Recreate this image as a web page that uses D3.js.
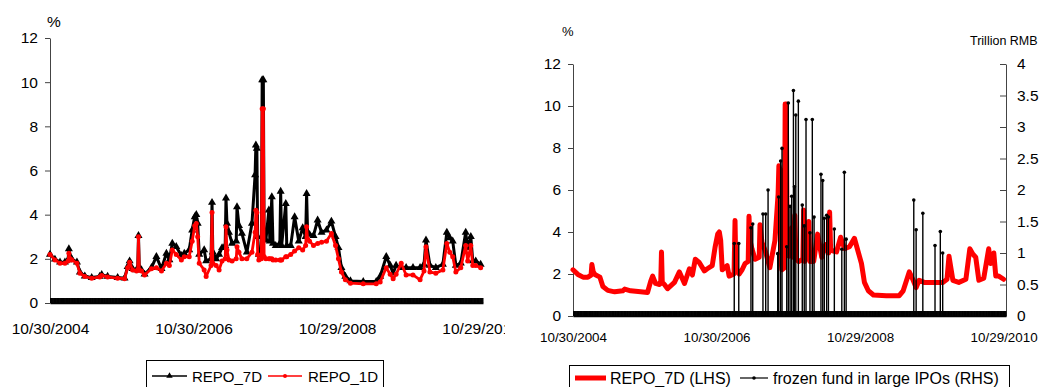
<!DOCTYPE html>
<html>
<head>
<meta charset="utf-8">
<script src="https://cdn.jsdelivr.net/npm/d3@7"></script>
<style>
  body { margin: 0; background: #fff; font-family: "Liberation Sans", Arial, sans-serif; }
  svg { position: absolute; top: 0; overflow: hidden; }
</style>
</head>
<body>
<svg id="left" width="505" height="387" style="left:0"></svg>
<svg id="right" width="525" height="387" style="left:520px"></svg>
<script>
// repo rates, %
const repoDates = [
  '2004-10-30','2004-11-24','2004-12-20','2005-01-14','2005-01-30','2005-02-03','2005-02-10','2005-02-18',
  '2005-03-16','2005-03-31','2005-04-25','2005-05-30','2005-07-10','2005-07-20','2005-08-19','2005-10-09',
  '2005-11-13','2005-11-29','2005-12-09','2005-12-24','2006-01-13','2006-01-19','2006-01-23','2006-01-27',
  '2006-02-07','2006-02-23','2006-03-30','2006-04-24','2006-05-20','2006-06-14','2006-06-29','2006-07-14',
  '2006-08-03','2006-08-29','2006-09-13','2006-10-08','2006-10-23','2006-11-05','2006-11-13','2006-11-20',
  '2006-11-28','2006-12-23','2007-01-02','2007-01-27','2007-02-01','2007-02-05','2007-02-22','2007-03-09',
  '2007-03-24','2007-04-09','2007-04-13','2007-04-18','2007-04-28','2007-05-14','2007-06-04','2007-06-08',
  '2007-06-18','2007-07-03','2007-07-28','2007-08-23','2007-09-08','2007-09-12','2007-09-17','2007-09-21',
  '2007-09-27','2007-10-10','2007-10-14','2007-10-20','2007-10-24','2007-11-02','2007-11-17','2007-11-22',
  '2007-12-02','2007-12-08','2007-12-22','2008-01-12','2008-01-16','2008-01-21','2008-02-11','2008-02-16',
  '2008-03-07','2008-03-27','2008-04-17','2008-05-07','2008-05-22','2008-05-27','2008-06-01','2008-06-11',
  '2008-07-01','2008-07-22','2008-08-11','2008-09-05','2008-09-30','2008-10-21','2008-11-05','2008-11-20',
  '2008-12-10','2009-01-05','2009-03-11','2009-05-16','2009-06-05','2009-07-06','2009-07-26','2009-08-10',
  '2009-08-25','2009-09-20','2009-10-15','2009-11-19','2009-12-25','2010-01-14','2010-01-24','2010-02-13',
  '2010-03-15','2010-04-20','2010-05-10','2010-05-25','2010-06-09','2010-06-25','2010-07-20','2010-08-14',
  '2010-08-24','2010-09-09','2010-09-19','2010-10-04','2010-10-29'
]
const repo7d = [
  2.2, 1.98, 1.85, 1.85, 1.95, 2.45, 2.1, 1.98,
  1.85, 1.4, 1.22, 1.15, 1.2, 1.28, 1.2, 1.15,
  1.12, 1.65, 1.9, 1.55, 1.5, 1.55, 3.05, 1.6,
  1.5, 1.3, 1.6, 2.1, 1.55, 2.25, 1.95, 2.7,
  2.55, 2.15, 2.25, 2.4, 3.3, 3.9, 4.0, 3.6,
  2.2, 2.4, 1.9, 2.0, 4.55, 2.3, 2.0, 2.2,
  2.5, 2.6, 4.75, 3.6, 3.2, 2.7, 2.8, 4.35,
  3.5, 3.15, 2.3, 3.6, 5.8, 7.15, 7.0, 3.0,
  2.2, 2.3, 10.1, 10.1, 2.9, 2.85, 4.2, 2.8,
  4.8, 2.7, 2.6, 2.7, 5.05, 2.6, 4.5, 2.6,
  2.6, 3.9, 2.8, 3.4, 3.0, 4.95, 3.2, 3.1,
  3.05, 3.75, 3.2, 3.3, 3.7, 3.0, 2.5, 1.6,
  1.2, 1.0, 0.97, 0.97, 1.2, 2.1, 1.7, 1.35,
  1.7, 1.6, 1.6, 1.6, 1.6, 1.75, 2.85, 1.7,
  1.6, 1.75, 3.2, 2.95, 2.8, 1.7, 1.8, 3.2,
  2.5, 3.0, 1.9, 1.9, 1.75
]
const repo1d = [
  2.2, 1.95, 1.8, 1.8, 1.9, 2.25, 2.0, 1.95,
  1.8, 1.35, 1.2, 1.12, 1.18, 1.25, 1.18, 1.12,
  1.1, 1.6, 1.85, 1.5, 1.45, 1.5, 3.0, 1.5,
  1.45, 1.27, 1.55, 1.6, 1.45, 1.8, 1.7, 2.4,
  2.2, 1.95, 2.1, 2.1, 2.8, 3.5, 3.6, 3.0,
  1.8, 1.5, 1.2, 1.7, 4.1, 1.8, 1.7, 1.5,
  1.9, 2.0, 3.45, 2.4, 1.95, 1.9, 2.0, 2.55,
  2.3, 2.0, 2.0, 2.3, 3.2, 4.2, 4.1, 2.2,
  1.95, 2.0, 8.8, 8.8, 2.1, 2.0, 2.0, 2.0,
  2.0, 1.95, 1.95, 1.95, 1.95, 1.95, 2.1, 2.1,
  2.2, 2.35, 2.5, 2.4, 2.6, 3.45, 2.9, 2.8,
  2.6, 2.7, 2.75, 2.8, 3.15, 2.6, 2.0, 1.4,
  1.05, 0.9, 0.87, 0.87, 0.95, 1.6, 1.3, 1.1,
  1.3, 1.8, 1.27, 1.27, 1.05, 1.45, 2.55, 1.4,
  1.35, 1.5, 2.7, 2.3, 2.1, 1.4, 1.6, 2.6,
  1.9, 2.6, 1.7, 1.7, 1.6
]

// frozen funds in large IPOs, trillion RMB
const ipoDates = [
  '2007-01-28','2007-02-20','2007-04-23','2007-05-02','2007-06-23','2007-07-07','2007-07-19','2007-09-06',
  '2007-09-11','2007-09-21','2007-09-28','2007-10-22','2007-10-30','2007-11-08','2007-11-16','2007-11-25',
  '2007-11-30','2007-12-07','2007-12-20','2008-01-09','2008-01-19','2008-01-28','2008-02-17','2008-02-29',
  '2008-03-09','2008-04-13','2008-04-22','2008-04-30','2008-05-12','2008-05-21','2008-06-20','2008-07-28',
  '2008-08-10','2008-08-19','2009-07-29','2009-08-10','2009-09-13','2009-11-14','2009-12-11','2009-12-23'
]
const ipoFrozen = [
  1.15, 1.15, 1.40, 1.46, 1.62, 1.62, 2.0, 0.99,
  1.89, 2.46, 2.66, 1.1, 3.38, 1.74, 1.9, 3.58,
  2.05, 3.19, 3.41, 1.76, 1.43, 3.12, 1.32, 3.12,
  1.57, 2.25, 2.15, 1.55, 1.6, 1.57, 1.38, 1.06,
  2.28, 1.22, 1.84, 1.37, 1.63, 1.12, 1.34, 1.0
]

const pctTicks = [0, 2, 4, 6, 8, 10, 12]
const rmbTicks = [0, 0.5, 1, 1.5, 2, 2.5, 3, 3.5, 4]
const rmbTickLabels = ['0', '0.5', '1', '1.5', '2', '2.5', '3', '3.5', '4']
const dateTickLabels = ['10/30/2004', '10/30/2006', '10/29/2008', '10/29/2010']

const parse = d3.timeParse('%Y-%m-%d')
const parseLabel = d3.timeParse('%m/%d/%Y')
const start = parse('2004-10-30')
const end = parse('2010-11-10')

const repo = repoDates.map((d, i) => ({ date: parse(d), r7: repo7d[i], r1: repo1d[i] }))
const ipo = ipoDates.map((d, i) => ({ date: parse(d), v: ipoFrozen[i] }))
const labelDates = dateTickLabels.map(parseLabel)
const bandDates = d3.timeDay.every(3).range(start, end)
const FONT = '"Liberation Sans", Arial, sans-serif'

// draws dense tick band + date labels under a plot
function drawDateAxis (svg, x, y0, fontSize, pad) {
  svg.append('g')
    .attr('transform', 'translate(0,' + y0 + ')')
    .call(d3.axisBottom(x).tickValues(bandDates).tickSizeInner(-5).tickSizeOuter(0).tickFormat(''))
    .call(g => g.selectAll('line').attr('stroke', '#000').attr('stroke-width', 1.2))
    .call(g => g.select('.domain').attr('stroke', '#000').attr('stroke-width', 1.5))
  svg.append('g')
    .attr('transform', 'translate(0,' + y0 + ')')
    .call(d3.axisBottom(x).tickValues(labelDates).tickSize(0).tickPadding(pad)
      .tickFormat((d, i) => dateTickLabels[i]))
    .call(g => g.select('.domain').remove())
    .call(g => g.selectAll('text').attr('font-size', fontSize).attr('fill', '#000').attr('font-family', FONT))
}

// ---------- left chart ----------
{
  let svg = d3.select('#left')
  let x = d3.scaleTime().domain([start, end]).range([50, 483])
  let y = d3.scaleLinear().domain([0, 12]).range([303, 38])

  svg.append('g')
    .attr('transform', 'translate(50,0)')
    .call(d3.axisLeft(y).tickValues(pctTicks).tickSizeInner(5).tickSizeOuter(0).tickPadding(7))
    .call(g => g.selectAll('path,line').attr('stroke', '#444'))
    .call(g => g.selectAll('text').attr('font-size', 15.5).attr('fill', '#000').attr('font-family', FONT))

  svg.append('text').attr('x', 47).attr('y', 27).attr('font-size', 15.5).text('%')

  let line7 = d3.line().x(d => x(d.date)).y(d => y(d.r7))
  let line1 = d3.line().x(d => x(d.date)).y(d => y(d.r1))

  svg.append('path').datum(repo).attr('d', line7)
    .attr('fill', 'none').attr('stroke', '#000').attr('stroke-width', 3).attr('stroke-linejoin', 'round')
  svg.append('g').selectAll('path').data(repo).enter().append('path')
    .attr('d', d3.symbol(d3.symbolTriangle, 28))
    .attr('transform', d => 'translate(' + x(d.date) + ',' + y(d.r7) + ')')
    .attr('fill', '#000')

  svg.append('path').datum(repo).attr('d', line1)
    .attr('fill', 'none').attr('stroke', '#f00').attr('stroke-width', 2.8).attr('stroke-linejoin', 'round')
  svg.append('g').selectAll('circle').data(repo).enter().append('circle')
    .attr('cx', d => x(d.date)).attr('cy', d => y(d.r1)).attr('r', 2.5)
    .attr('fill', '#f00')

  drawDateAxis(svg, x, 303, 15.5, 20)

  // legend
  let lg = svg.append('g')
  lg.append('rect').attr('x', 146.5).attr('y', 360.5).attr('width', 237).attr('height', 40)
    .attr('fill', '#fff').attr('stroke', '#000')
  lg.append('line').attr('x1', 152).attr('x2', 187).attr('y1', 376).attr('y2', 376)
    .attr('stroke', '#000').attr('stroke-width', 1.5)
  lg.append('path').attr('d', d3.symbol(d3.symbolTriangle, 18)).attr('transform', 'translate(169.5,376)')
  lg.append('text').attr('x', 192).attr('y', 381.5).attr('font-size', 15).text('REPO_7D')
  lg.append('line').attr('x1', 268).attr('x2', 302).attr('y1', 376).attr('y2', 376)
    .attr('stroke', '#f00').attr('stroke-width', 1.5)
  lg.append('circle').attr('cx', 285).attr('cy', 376).attr('r', 2).attr('fill', '#f00')
  lg.append('text').attr('x', 308).attr('y', 381.5).attr('font-size', 15).text('REPO_1D')
}

// ---------- right chart ----------
{
  let svg = d3.select('#right')
  let x = d3.scaleTime().domain([start, end]).range([53, 486])
  let y = d3.scaleLinear().domain([0, 12]).range([316, 64])
  let y2 = d3.scaleLinear().domain([0, 4]).range([316, 64])

  svg.append('g')
    .attr('transform', 'translate(53,0)')
    .call(d3.axisLeft(y).tickValues(pctTicks).tickSizeInner(5).tickSizeOuter(0).tickPadding(7))
    .call(g => g.selectAll('path,line').attr('stroke', '#444'))
    .call(g => g.selectAll('text').attr('font-size', 15.5).attr('fill', '#000').attr('font-family', FONT))

  svg.append('g')
    .attr('transform', 'translate(486,0)')
    .call(d3.axisRight(y2).tickValues(rmbTicks).tickSizeInner(-6).tickSizeOuter(0).tickPadding(11)
      .tickFormat((d, i) => rmbTickLabels[i]))
    .call(g => g.selectAll('path,line').attr('stroke', '#444'))
    .call(g => g.selectAll('text').attr('font-size', 15.5).attr('fill', '#000').attr('font-family', FONT))

  svg.append('text').attr('x', 42).attr('y', 35.5).attr('font-size', 13).text('%')
  svg.append('text').attr('x', 450).attr('y', 44.5).attr('font-size', 12.5).text('Trillion RMB')

  let line7 = d3.line().x(d => x(d.date)).y(d => y(d.r7))
  svg.append('path').datum(repo).attr('d', line7)
    .attr('fill', 'none').attr('stroke', '#f00').attr('stroke-width', 5)
    .attr('stroke-linejoin', 'round').attr('stroke-linecap', 'round')

  // IPO stems
  let stems = svg.append('g')
  stems.selectAll('line').data(ipo).enter().append('line')
    .attr('x1', d => x(d.date)).attr('x2', d => x(d.date))
    .attr('y1', y2(0)).attr('y2', d => y2(d.v))
    .attr('stroke', '#000').attr('stroke-width', 1.4)
  stems.selectAll('circle').data(ipo).enter().append('circle')
    .attr('cx', d => x(d.date)).attr('cy', d => y2(d.v)).attr('r', 1.8)
    .attr('fill', '#000')

  drawDateAxis(svg, x, 316, 13.4, 16)

  // legend
  let lg = svg.append('g')
  lg.append('rect').attr('x', 49.5).attr('y', 365.5).attr('width', 440).attr('height', 40)
    .attr('fill', '#fff').attr('stroke', '#000')
  lg.append('line').attr('x1', 55).attr('x2', 86).attr('y1', 378).attr('y2', 378)
    .attr('stroke', '#f00').attr('stroke-width', 5)
  lg.append('text').attr('x', 90).attr('y', 383.7).attr('font-size', 16).text('REPO_7D (LHS)')
  lg.append('line').attr('x1', 220).attr('x2', 248).attr('y1', 378).attr('y2', 378)
    .attr('stroke', '#000').attr('stroke-width', 1.2)
  lg.append('circle').attr('cx', 234).attr('cy', 378).attr('r', 1.8).attr('fill', '#000')
  lg.append('text').attr('x', 253).attr('y', 383.7).attr('font-size', 16).text('frozen fund in large IPOs (RHS)')
}
</script>
</body>
</html>
